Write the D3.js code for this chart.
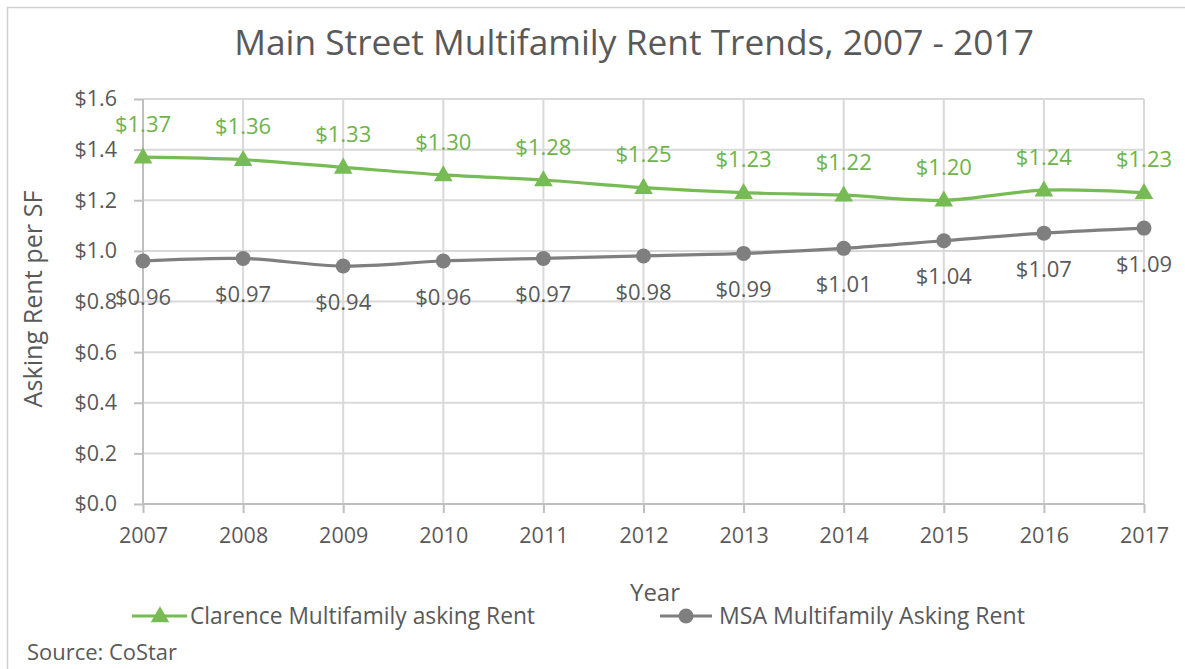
<!DOCTYPE html>
<html><head><meta charset="utf-8">
<script src="https://cdn.jsdelivr.net/npm/d3@7"></script>
<style>
html,body{margin:0;padding:0;background:#fff;}
svg{display:block;font-family:"Open Sans",sans-serif;}
</style></head>
<body><svg id="c" width="1185" height="669"></svg>
<script>
const years = ["2007","2008","2009","2010","2011","2012","2013","2014","2015","2016","2017"];
const clarence = [1.37,1.36,1.33,1.30,1.28,1.25,1.23,1.22,1.20,1.24,1.23];
const msa = [0.96,0.97,0.94,0.96,0.97,0.98,0.99,1.01,1.04,1.07,1.09];
const yTicks = [0,0.2,0.4,0.6,0.8,1.0,1.2,1.4,1.6];
const seriesNames = ["Clarence Multifamily asking Rent","MSA Multifamily Asking Rent"];
const titleText = "Main Street Multifamily Rent Trends, 2007 - 2017";

const svg = d3.select("#c");
const green = "#76BB53", greenText = "#70B24C", grey = "#7F7F7F", greyText = "#595959", textCol = "#595959";

function fit(sel, base, target){
  sel.style("font-size", base+"px");
  const w = sel.node().getComputedTextLength();
  sel.style("font-size", (base*target/w).toFixed(2)+"px");
  return sel;
}

// chart border
svg.append("rect").attr("x",7.5).attr("y",7.5).attr("width",1200).attr("height",700)
  .attr("fill","none").attr("stroke","#D0D0D0").attr("stroke-width",1.5);

const x = d3.scalePoint().domain(years).range([143,1144]).padding(0);
const y = d3.scaleLinear().domain([0,1.6]).range([504,99]);

// horizontal gridlines
svg.append("g").selectAll("line").data(yTicks.filter(d=>d>0)).join("line")
  .attr("x1",143).attr("x2",1144).attr("y1",d=>y(d)).attr("y2",d=>y(d))
  .attr("stroke","#D9D9D9").attr("stroke-width",2);
// vertical gridlines
svg.append("g").selectAll("line").data(years.slice(1)).join("line")
  .attr("x1",d=>x(d)).attr("x2",d=>x(d)).attr("y1",99).attr("y2",504)
  .attr("stroke","#D9D9D9").attr("stroke-width",2);

// Y axis
const yAx = svg.append("g").attr("transform","translate(143,0)")
  .call(d3.axisLeft(y).tickValues(yTicks).tickSize(9).tickPadding(17).tickFormat(d=>"$"+d3.format(".1f")(d)));
yAx.select(".domain").attr("stroke","#BFBFBF").attr("stroke-width",2).attr("d","M0,99V504");
yAx.selectAll(".tick line").attr("stroke","#BFBFBF").attr("stroke-width",2);
yAx.selectAll("text").attr("fill",textCol).style("font-size","21.5px").style("font-family","Open Sans");

// X axis
const xAx = svg.append("g").attr("transform","translate(0,504)")
  .call(d3.axisBottom(x).tickSize(9).tickPadding(15));
xAx.select(".domain").attr("stroke","#BFBFBF").attr("stroke-width",2).attr("d","M143,0H1144");
xAx.selectAll(".tick line").attr("stroke","#BFBFBF").attr("stroke-width",2);
xAx.selectAll("text").attr("fill",textCol).style("font-size","21.5px").style("font-family","Open Sans");

// lines
const line = d3.line().x((d,i)=>x(years[i])).y(d=>y(d)).curve(d3.curveCatmullRom.alpha(0.5));
svg.append("path").datum(msa).attr("d",line).attr("fill","none").attr("stroke",grey).attr("stroke-width",3.2);
svg.append("path").datum(clarence).attr("d",line).attr("fill","none").attr("stroke",green).attr("stroke-width",3.2);

const tri = d3.symbol().type(d3.symbolTriangle).size(150);
svg.append("g").selectAll("circle").data(msa).join("circle")
  .attr("cx",(d,i)=>x(years[i])).attr("cy",d=>y(d)).attr("r",7.5).attr("fill",grey);
svg.append("g").selectAll("path").data(clarence).join("path")
  .attr("d",tri).attr("transform",(d,i)=>`translate(${x(years[i])},${y(d)+1})`).attr("fill",green);

// data labels
svg.append("g").selectAll("text").data(clarence).join("text")
  .attr("x",(d,i)=>x(years[i])).attr("y",d=>y(d)-33).attr("dy","0.35em")
  .attr("text-anchor","middle").attr("fill",greenText).style("font-size","22px")
  .text(d=>"$"+d.toFixed(2));
svg.append("g").selectAll("text").data(msa).join("text")
  .attr("x",(d,i)=>x(years[i])).attr("y",d=>y(d)+36).attr("dy","0.35em")
  .attr("text-anchor","middle").attr("fill",greyText).style("font-size","22px")
  .text(d=>"$"+d.toFixed(2));

// title
const t = svg.append("text").attr("x",634).attr("y",55).attr("text-anchor","middle")
  .attr("fill",textCol).text(titleText);
fit(t,32,800);

// axis titles
fit(svg.append("text").attr("transform","translate(42,299) rotate(-90)").attr("text-anchor","middle")
  .attr("fill",textCol).text("Asking Rent per SF"),22,217);
fit(svg.append("text").attr("x",655).attr("y",601).attr("text-anchor","middle")
  .attr("fill",textCol).text("Year"),22,50);

// legend
const lg = svg.append("g");
lg.append("line").attr("x1",132).attr("x2",187).attr("y1",616).attr("y2",616).attr("stroke",green).attr("stroke-width",3.2);
lg.append("path").attr("d",tri).attr("transform","translate(160,617)").attr("fill",green);
fit(lg.append("text").attr("x",190).attr("y",616).attr("dy","0.35em").attr("fill",textCol).text(seriesNames[0]),20,345);
lg.append("line").attr("x1",660).attr("x2",712).attr("y1",616).attr("y2",616).attr("stroke",grey).attr("stroke-width",3.2);
lg.append("circle").attr("cx",686).attr("cy",616).attr("r",7.5).attr("fill",grey);
fit(lg.append("text").attr("x",719).attr("y",616).attr("dy","0.35em").attr("fill",textCol).text(seriesNames[1]),20,306);

// source
fit(svg.append("text").attr("x",27).attr("y",652).attr("dy","0.35em").attr("fill",textCol).text("Source: CoStar"),19,150);
</script></body></html>
